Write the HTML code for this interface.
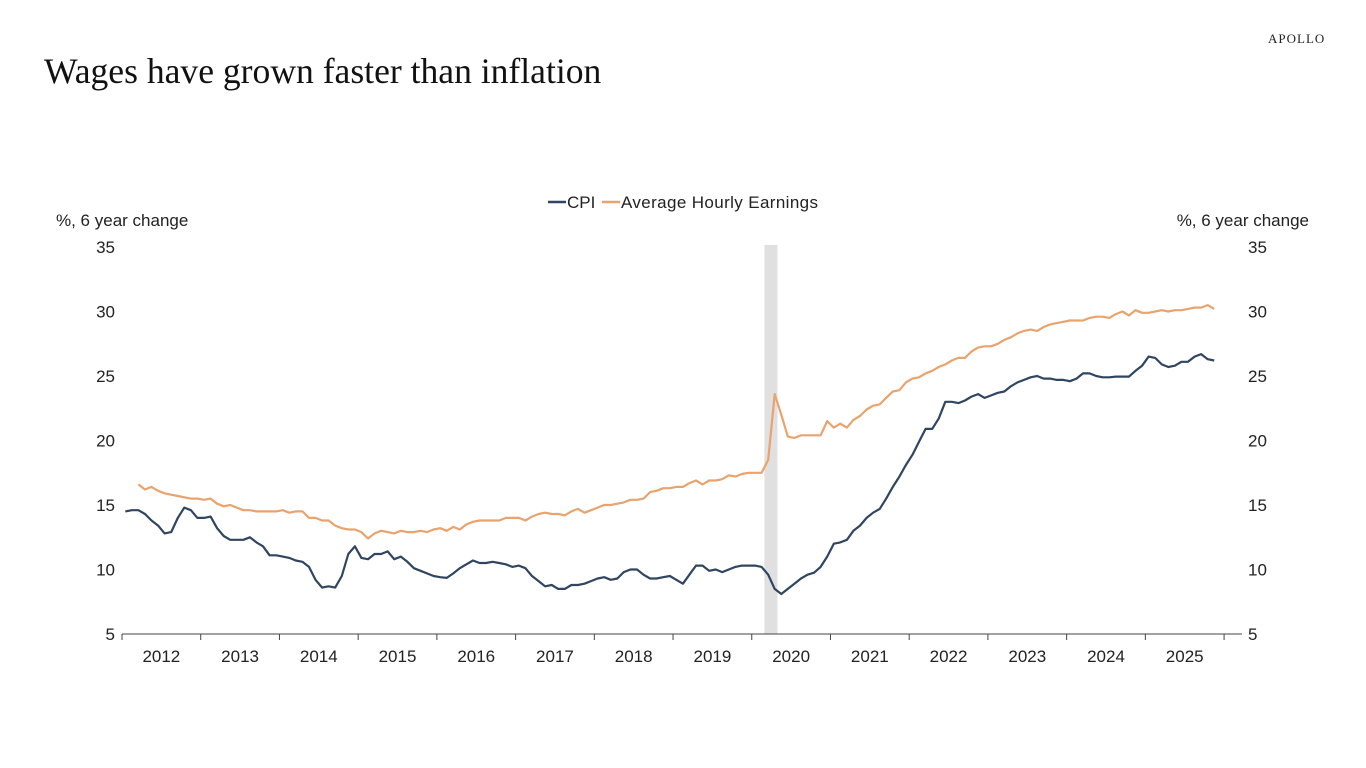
<!DOCTYPE html>
<html><head><meta charset="utf-8"><style>
body{margin:0;width:1366px;height:768px;background:#fff;overflow:hidden;font-family:"Liberation Sans",sans-serif}
#title{position:absolute;left:44px;top:50px;font-family:"Liberation Serif",serif;font-size:35.6px;color:#111}
#logo{position:absolute;left:1268px;top:31px;font-family:"Liberation Serif",serif;font-size:13px;letter-spacing:1px;color:#222}
svg{position:absolute;left:0;top:0}
svg text{font-family:"Liberation Sans",sans-serif;font-size:17px;fill:#222}
</style></head><body>
<div id="title">Wages have grown faster than inflation</div>
<div id="logo">APOLLO</div>
<svg id="chart" width="1366" height="768"></svg>
<script>
const years=["2012","2013","2014","2015","2016","2017","2018","2019","2020","2021","2022","2023","2024","2025"];
const yTicks=[5,10,15,20,25,30,35];
const cpi=[14.5,14.6,14.6,14.3,13.8,13.4,12.8,12.9,14.0,14.8,14.6,14.0,
14.0,14.1,13.2,12.6,12.3,12.3,12.3,12.5,12.1,11.8,11.1,11.1,
11.0,10.9,10.7,10.6,10.2,9.2,8.6,8.7,8.6,9.5,11.2,11.8,
10.9,10.8,11.2,11.2,11.4,10.8,11.0,10.6,10.1,9.9,9.7,9.5,
9.4,9.35,9.7,10.1,10.4,10.7,10.5,10.5,10.6,10.5,10.4,10.2,
10.3,10.1,9.5,9.1,8.7,8.8,8.5,8.5,8.8,8.8,8.9,9.1,
9.3,9.4,9.2,9.3,9.8,10.0,10.0,9.6,9.3,9.3,9.4,9.5,
9.2,8.9,9.6,10.3,10.3,9.9,10.0,9.8,10.0,10.2,10.3,10.3,
10.3,10.2,9.6,8.5,8.1,8.5,8.9,9.3,9.6,9.75,10.2,11.0,
12.0,12.1,12.3,13.0,13.4,14.0,14.4,14.7,15.5,16.4,17.2,18.1,
18.9,19.9,20.9,20.9,21.7,23.0,23.0,22.9,23.1,23.4,23.6,23.3,
23.5,23.7,23.8,24.2,24.5,24.7,24.9,25.0,24.8,24.8,24.7,24.7,
24.6,24.8,25.2,25.2,25.0,24.9,24.9,24.95,24.95,24.95,25.4,25.8,
26.5,26.4,25.9,25.7,25.8,26.1,26.1,26.5,26.7,26.3,26.2];
const ahe=[null,null,16.6,16.2,16.4,16.1,15.9,15.8,15.7,15.6,15.5,15.5,
15.4,15.5,15.1,14.9,15.0,14.8,14.6,14.6,14.5,14.5,14.5,14.5,
14.6,14.4,14.5,14.5,14.0,14.0,13.8,13.8,13.4,13.2,13.1,13.1,
12.9,12.4,12.8,13.0,12.9,12.8,13.0,12.9,12.9,13.0,12.9,13.1,
13.2,13.0,13.3,13.1,13.5,13.7,13.8,13.8,13.8,13.8,14.0,14.0,
14.0,13.8,14.1,14.3,14.4,14.3,14.3,14.2,14.5,14.7,14.4,14.6,
14.8,15.0,15.0,15.1,15.2,15.4,15.4,15.5,16.0,16.1,16.3,16.3,
16.4,16.4,16.7,16.9,16.6,16.9,16.9,17.0,17.3,17.2,17.4,17.5,
17.5,17.5,18.5,23.6,22.0,20.3,20.2,20.4,20.4,20.4,20.4,21.5,
21.0,21.3,21.0,21.6,21.9,22.4,22.7,22.8,23.3,23.8,23.9,24.5,
24.8,24.9,25.2,25.4,25.7,25.9,26.2,26.4,26.4,26.9,27.2,27.3,
27.3,27.5,27.8,28.0,28.3,28.5,28.6,28.5,28.8,29.0,29.1,29.2,
29.3,29.3,29.3,29.5,29.6,29.6,29.5,29.8,30.0,29.7,30.1,29.9,
29.9,30.0,30.1,30.0,30.1,30.1,30.2,30.3,30.3,30.5,30.2];
const recession=[98,100];
const NS="http://www.w3.org/2000/svg",svg=document.getElementById('chart');
const x0=122,yearW=78.72,yTop=247,yBot=634;
const xM=m=>x0+(m+0.5)*yearW/12;
const yV=v=>yBot-(v-5)*(yBot-yTop)/30;
function mk(t,a,p){const e=document.createElementNS(NS,t);for(const k in a)e.setAttribute(k,a[k]);(p||svg).appendChild(e);return e;}
const rec=mk('rect',{x:xM(recession[0])-3.8,y:yTop-2,width:(recession[1]-recession[0])*yearW/12,height:yBot-yTop+2,fill:'#e0e0e0'});


const axis=mk('line',{x1:x0,x2:1242,y1:yBot,y2:yBot,stroke:'#444','stroke-width':1});


for(let i=0;i<=years.length;i++){
  const tk=mk('line',{x1:x0+i*yearW,x2:x0+i*yearW,y1:yBot,y2:yBot+6,stroke:'#444'});
  
  
}
years.forEach((y,i)=>{const t=mk('text',{x:x0+(i+0.5)*yearW,y:yBot+28,'text-anchor':'middle'});t.textContent=y;
  
  });
yTicks.forEach(v=>{
  const l=mk('text',{x:115,y:yV(v)+6,'text-anchor':'end'});l.textContent=v;
  
  
  const r=mk('text',{x:1248,y:yV(v)+6});r.textContent=v;
  
  
});
const lt=mk('text',{x:56,y:226});lt.textContent='%, 6 year change';


const rt=mk('text',{x:1309,y:226,'text-anchor':'end'});rt.textContent='%, 6 year change';


function line(arr,col,name){let d='';arr.forEach((v,i)=>{if(v==null)return;d+=(d?'L':'M')+xM(i).toFixed(1)+','+yV(v).toFixed(1);});
  const p=mk('path',{d:d,fill:'none',stroke:col,'stroke-width':2.2,'stroke-linejoin':'round'});
  
  }
line(ahe,'#e8a36e','ahe-line');
line(cpi,'#2f4560','cpi-line');
const g=mk('g',{});


const l1=mk('line',{x1:548,x2:566,y1:202,y2:202,stroke:'#2f4560','stroke-width':2.5},g);


const t1=mk('text',{x:567,y:208,'font-size':'17.5'},g);t1.textContent='CPI';


const l2=mk('line',{x1:602,x2:620,y1:202,y2:202,stroke:'#e8a36e','stroke-width':2.5},g);


const t2=mk('text',{x:621,y:208,textLength:197},g);t2.textContent='Average Hourly Earnings';


</script>
</body></html>
